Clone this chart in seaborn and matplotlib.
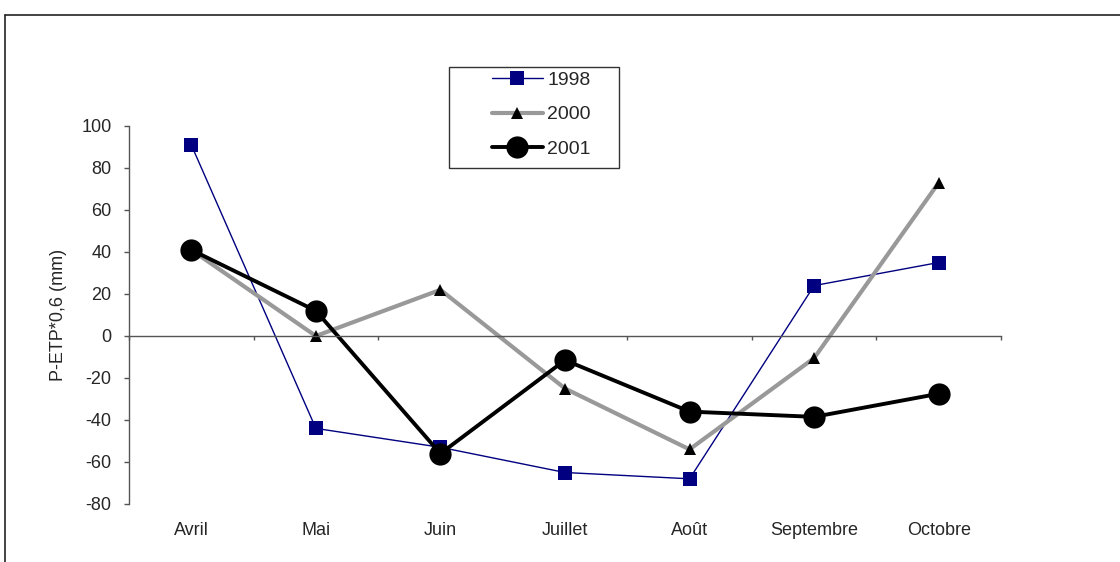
import numpy as np
import matplotlib
matplotlib.use("Agg")
import matplotlib.pyplot as plt
from matplotlib.lines import Line2D
from matplotlib.patches import Rectangle
import seaborn as sns

months = ["Avril", "Mai", "Juin", "Juillet", "Août", "Septembre", "Octobre"]
s1998 = [91, -44, -53, -65, -68, 24, 35]
s2000 = [41, 0, 22, -25, -54, -10.5, 73]
s2001 = [41, 12, -56, -11.5, -36, -38.5, -27.5]
yticks = [-80, -60, -40, -20, 0, 20, 40, 60, 80, 100]
ylabel = "P-ETP*0,6 (mm)"

sns.set_style("white")
plt.rcParams["font.family"] = ["Liberation Sans", "DejaVu Sans"]

fig = plt.figure(figsize=(11.2, 5.62), dpi=100)
W, H = 1120, 562
ax = fig.add_axes([129 / W, 1 - 504 / H, (1001 - 129) / W, (504 - 126) / H])

x = np.arange(len(months))
spine_col = "#555555"

sns.lineplot(x=x, y=s1998, ax=ax, color="#000080", linewidth=1.0,
             marker="s", markersize=9.5, markerfacecolor="#000080",
             markeredgecolor="#000080", markeredgewidth=0, label="1998")
sns.lineplot(x=x, y=s2000, ax=ax, color="#999999", linewidth=3.0,
             marker="^", markersize=8, markerfacecolor="black",
             markeredgecolor="black", markeredgewidth=0, label="2000")
sns.lineplot(x=x, y=s2001, ax=ax, color="black", linewidth=2.8,
             marker="o", markersize=16, markerfacecolor="black",
             markeredgecolor="black", markeredgewidth=0, label="2001")

ax.set_xlim(-0.5, len(months) - 0.5)
ax.set_ylim(min(yticks), max(yticks))
ax.set_yticks(yticks)
ax.set_yticklabels([str(v) for v in yticks])
ax.tick_params(axis="y", direction="out", length=3.6, width=1, color=spine_col,
               pad=9, labelsize=13, left=True)

for s in ["top", "right"]:
    ax.spines[s].set_visible(False)
ax.spines["left"].set_color(spine_col)
ax.spines["left"].set_linewidth(1.0)
ax.spines["bottom"].set_position(("data", 0))
ax.spines["bottom"].set_color(spine_col)
ax.spines["bottom"].set_linewidth(1.0)

ax.set_xticks(np.arange(-0.5, len(months), 1.0))
ax.set_xticklabels([])
ax.tick_params(axis="x", direction="out", length=3, width=1, color=spine_col, bottom=True)

sec = ax.secondary_xaxis("bottom")
sec.set_xticks(x)
sec.set_xticklabels(months)
sec.tick_params(length=0, pad=13, labelsize=13)
sec.spines["bottom"].set_visible(False)

ax.set_ylabel(ylabel, fontsize=13, labelpad=10)
ax.set_xlabel("")

leg = ax.legend(loc="upper left", bbox_to_anchor=(492 / W, 1 - 71 / H),
                bbox_transform=fig.transFigure, frameon=False, fontsize=14,
                borderpad=0, borderaxespad=0, handlelength=2.6,
                handletextpad=0.25, labelspacing=0.88, numpoints=1)
fig.add_artist(Rectangle((449 / W, 1 - 168 / H), 170 / W, 101 / H,
                         transform=fig.transFigure, fill=False,
                         edgecolor="#333333", linewidth=1.0))

# outer chart border
fig.add_artist(Line2D([4.5 / W, 4.5 / W], [0, 1 - 14.5 / H], transform=fig.transFigure,
                      color="#222222", linewidth=1.2))
fig.add_artist(Line2D([4.5 / W, 1], [1 - 14.5 / H, 1 - 14.5 / H], transform=fig.transFigure,
                      color="#222222", linewidth=1.2))

fig.savefig("out.png", dpi=100)
